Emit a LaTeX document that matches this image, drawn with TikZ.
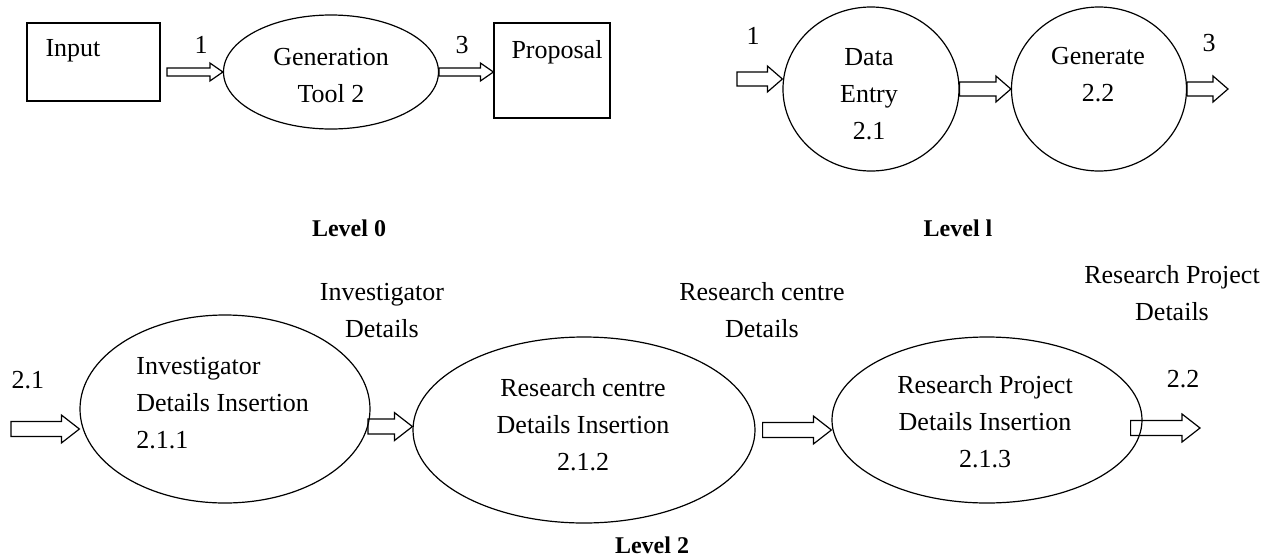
\documentclass[tikz,border=0pt]{standalone}
\usepackage{fontspec}
\setmainfont{Liberation Serif}
\usetikzlibrary{shapes.geometric,calc}

\tikzset{
  txt/.style={inner sep=0pt, align=center, font=\fontsize{13pt}{18.5pt}\selectfont},
  ebene/.style={inner sep=0pt, font=\fontsize{12pt}{14pt}\selectfont\bfseries},
  kasten/.style={draw, line width=0.6pt, inner sep=0pt},
  blase/.style={draw, ellipse, line width=0.6pt, inner sep=0pt},
  hohl/.style n args={3}{draw, line width=0.6pt, to path={
    let \p1=(\tikztostart), \p2=(\tikztotarget) in
    (\x1,\y1+#1) -- (\x2-#3,\y1+#1) -- (\x2-#3,\y1+#2) -- (\x2,\y1)
    -- (\x2-#3,\y1-#2) -- (\x2-#3,\y1-#1) -- (\x1,\y1-#1) -- cycle}},
  pfeilA/.style={hohl={2pt}{4.5pt}{6.5pt}},
  pfeilB/.style={hohl={3.5pt}{6.5pt}{7.5pt}},
  pfeilC/.style={hohl={3.75pt}{7pt}{9pt}}
}

\begin{document}
\begin{tikzpicture}[x=0.5pt,y=-0.5pt]
    \useasboundingbox (0,0) rectangle (1271,558);

    %Ebene 0
    \node[kasten, minimum width=66.5pt, minimum height=39pt] (inp) at (93.5,62) {};
    \node[blase, minimum width=107.5pt, minimum height=57pt] (gtool) at (331,72) {};
    \node[kasten, minimum width=58pt, minimum height=47.5pt] (prop) at (552,70.5) {};

    \node[txt] (tinp) at (73,51) {Input};
    \node[txt] (tgtool) at (331,75.5) {Generation\\Tool 2};
    \node[txt] (tprop) at (557,52) {Proposal};
    \node[txt] (n1) at (201,45) {1};
    \node[txt] (n3) at (462,45) {3};
    \node[ebene] (lev0) at (349,228) {Level 0};

    \coordinate (a0) at (167,72);
    \draw[pfeilA] (a0) to (gtool.west);
    \draw[pfeilA] (gtool.east) to (prop.west);

    %Ebene 1
    \node[blase, minimum width=88pt, minimum height=82pt] (de) at (871,89) {};
    \node[blase, minimum width=87.5pt, minimum height=82pt] (gen) at (1099,89) {};

    \node[txt] (tde) at (869,94) {Data\\Entry\\2.1};
    \node[txt] (tgen) at (1098,74.5) {Generate\\2.2};
    \node[txt] (m1) at (753,36) {1};
    \node[txt] (m3) at (1209,43) {3};
    \node[ebene] (lev1) at (958,228) {Level l};

    \coordinate (b0) at (737,79);
    \coordinate (b3) at (1228,88);
    \draw[pfeilB] (b0) to (de.west);
    \draw[pfeilB] (de.east) to (gen.west);
    \draw[pfeilB] (gen.east) to (b3);

    %Ebene 2
    \node[blase, minimum width=145pt, minimum height=94pt] (e1) at (225,409) {};
    \node[blase, minimum width=171pt, minimum height=93pt] (e2) at (584,430) {};
    \node[blase, minimum width=155pt, minimum height=83pt] (e3) at (987,420) {};

    \node[txt, anchor=west, align=left] (te1) at (136,403) {Investigator\\Details Insertion\\2.1.1};
    \node[txt] (te2) at (583,425) {Research centre\\Details Insertion\\2.1.2};
    \node[txt] (te3) at (985,422) {Research Project\\Details Insertion\\2.1.3};

    \node[txt] (k0) at (28,380) {2.1};
    \node[txt] (k1) at (382,311) {Investigator\\Details};
    \node[txt] (k2) at (762,310) {Research centre\\Details};
    \node[txt] (k3) at (1172,293) {Research Project\\Details};
    \node[txt] (k4) at (1183,379) {2.2};
    \node[ebene] (lev2) at (652,545) {Level 2};

    \coordinate (c0) at (11,429);
    \coordinate (c3) at (1200,428);
    \draw[pfeilC] (c0) to (e1.west);
    \draw[pfeilC] (e1.-7) to (e2.west);
    \draw[pfeilC] ([xshift=3.5pt]e2.east) to (e3.west);
    \draw[pfeilC] ([xshift=-6pt,yshift=-4pt]e3.east) to (c3);

\end{tikzpicture}
\end{document}
